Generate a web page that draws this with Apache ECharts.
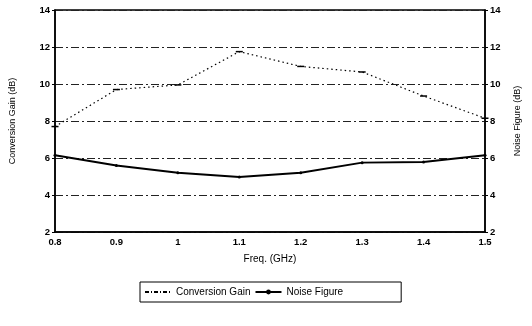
<!DOCTYPE html>
<html><head><meta charset="utf-8">
<script src="https://cdn.jsdelivr.net/npm/echarts@6/dist/echarts.min.js"></script>
<style>html,body{margin:0;padding:0;background:#fff}#c{width:532px;height:326px}</style>
</head><body><div id="c"></div>
<script>
const freqs = ['0.8','0.9','1','1.1','1.2','1.3','1.4','1.5'];
const conversionGain = [7.7, 9.7, 9.95, 11.75, 10.95, 10.65, 9.35, 8.15];
const noiseFigure = [6.15, 5.6, 5.2, 4.97, 5.2, 5.75, 5.78, 6.15];
const yTicks = [2, 4, 6, 8, 10, 12, 14];

const font = {fontFamily: 'Liberation Sans, Arial, sans-serif', fontWeight: 'bold', fontSize: 9.5, color: '#000'};
const chart = echarts.init(document.getElementById('c'), null, {renderer: 'canvas'});
const yAxisCommon = {
  type: 'value', min: yTicks[0], max: yTicks[yTicks.length-1], interval: 2,
  axisLine: {show: true, lineStyle: {color: '#000', width: 1.5}},
  axisTick: {show: true, length: 3, lineStyle: {color: '#000'}},
  axisLabel: Object.assign({margin: 5}, font),
  nameLocation: 'middle', nameRotate: 90,
  nameTextStyle: Object.assign({}, font, {fontSize: 9, fontWeight: 'normal'})
};
chart.setOption({
  animation: false,
  grid: {left: 52, right: 47, top: 10, bottom: 94, show: true, borderColor: '#000', borderWidth: 1.5},
  legend: {
    bottom: 24, left: 140, itemWidth: 26, itemHeight: 6, itemGap: 4,
    borderColor: '#000', borderWidth: 1, padding: [5, 58, 5, 4],
    textStyle: Object.assign({}, font, {fontWeight: 'normal', fontSize: 10}),
    data: [
      {name: 'Conversion Gain', itemStyle: {opacity: 0}, lineStyle: {type: [4, 2, 1, 2]}},
      {name: 'Noise Figure'}
    ]
  },
  xAxis: {
    type: 'category', data: freqs, boundaryGap: false,
    axisLine: {lineStyle: {color: '#000', width: 1.5}},
    axisTick: {show: false},
    axisLabel: Object.assign({margin: 5}, font),
    name: 'Freq. (GHz)', nameLocation: 'middle', nameGap: 22,
    nameTextStyle: Object.assign({}, font, {fontWeight: 'normal', fontSize: 10})
  },
  yAxis: [
    Object.assign({}, yAxisCommon, {
      position: 'left', name: 'Conversion Gain (dB)', nameGap: 38,
      splitLine: {show: true, lineStyle: {color: '#222', width: 1, type: [8, 3, 2, 3]}}
    }),
    Object.assign({}, yAxisCommon, {
      position: 'right', name: 'Noise Figure (dB)', nameGap: 28, nameRotate: 90,
      splitLine: {show: false}
    })
  ],
  series: [
    {
      name: 'Conversion Gain', type: 'line', data: conversionGain, yAxisIndex: 0,
      symbol: 'rect', symbolSize: [7, 1.5],
      itemStyle: {color: '#000'},
      lineStyle: {color: '#000', width: 1.2, type: [1.5, 3]}
    },
    {
      name: 'Noise Figure', type: 'line', data: noiseFigure, yAxisIndex: 1,
      symbol: 'circle', symbolSize: 3,
      itemStyle: {color: '#000'},
      lineStyle: {color: '#000', width: 2}
    }
  ]
});
</script></body></html>
